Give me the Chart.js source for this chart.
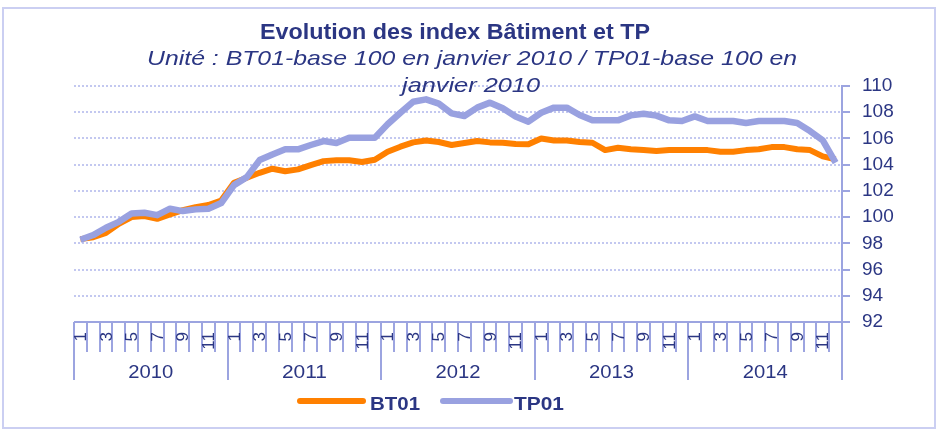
<!DOCTYPE html>
<html lang="fr">
<head>
  <meta charset="UTF-8" />
  <title>Evolution des index Bâtiment et TP</title>
  <script src="https://cdn.jsdelivr.net/npm/chart.js"></script>
  <style>
    body { margin: 0; background: #fff; }
    canvas { display: block; }
  </style>
</head>
<body>
  <canvas id="indexChart" width="938" height="430"></canvas>

  <script>
    // Données (mensuel, janvier 2010 à décembre 2014)
    const years = ['2010', '2011', '2012', '2013', '2014'];
    const months = ['1', '2', '3', '4', '5', '6', '7', '8', '9', '10', '11', '12'];
    const yTicks = [92, 94, 96, 98, 100, 102, 104, 106, 108, 110];

    const bt01 = [
      98.32, 98.47, 98.8, 99.49, 100.0, 100.08, 99.87, 100.2, 100.53, 100.76, 100.92, 101.27,
      102.62, 103.0, 103.38, 103.69, 103.5, 103.64, 103.97, 104.27, 104.33, 104.33, 104.2, 104.38,
      104.99, 105.37, 105.7, 105.85, 105.73, 105.5, 105.65, 105.8, 105.7, 105.67, 105.57, 105.55,
      106.0, 105.85, 105.85, 105.73, 105.67, 105.11, 105.29, 105.17, 105.11, 105.04, 105.11, 105.11,
      105.11, 105.11, 104.99, 104.99, 105.11, 105.17, 105.34, 105.34, 105.17, 105.11, 104.63, 104.4
    ];
    const tp01 = [
      98.27, 98.63, 99.19, 99.64, 100.28, 100.33, 100.15, 100.64, 100.46, 100.59, 100.64, 101.07,
      102.44, 103.05, 104.35, 104.78, 105.17, 105.17, 105.5, 105.8, 105.65, 106.06, 106.06, 106.06,
      107.08, 107.96, 108.8, 108.98, 108.65, 107.91, 107.71, 108.35, 108.73, 108.3, 107.68, 107.28,
      107.96, 108.35, 108.35, 107.79, 107.38, 107.38, 107.38, 107.76, 107.89, 107.74, 107.38, 107.33,
      107.68, 107.33, 107.33, 107.33, 107.18, 107.33, 107.33, 107.33, 107.18, 106.56, 105.85, 104.15
    ];

    const NAVY = '#2B3683';
    const AXIS = '#9CA4E0';
    const GRID = '#C3C8F0';
    const FONT = '"Liberation Sans", Arial, sans-serif';

    // une étiquette par mois, l'année sert de regroupement
    const labels = [];
    years.forEach(y => months.forEach(m => labels.push(m)));

    // texte ajusté à une largeur donnée (le rendu Excel est un peu plus large)
    function fitText(ctx, text, x, y, font, width, align) {
      ctx.font = font;
      const w = ctx.measureText(text).width;
      const sx = width ? width / w : 1;
      ctx.save();
      ctx.translate(x, y);
      ctx.scale(sx, 1);
      ctx.textAlign = align || 'center';
      ctx.fillText(text, 0, 0);
      ctx.restore();
    }

    const decorPlugin = {
      id: 'decor',
      afterDraw(chart) {
        const ctx = chart.ctx;
        const xs = chart.scales.x;
        const area = chart.chartArea;
        const step = xs.getPixelForValue(1) - xs.getPixelForValue(0);
        const bottom = area.bottom;

        ctx.save();

        // cadre
        ctx.strokeStyle = '#CBCFF2';
        ctx.lineWidth = 2;
        ctx.strokeRect(3, 8, 932, 420);

        // titres
        ctx.fillStyle = NAVY;
        ctx.textBaseline = 'alphabetic';
        fitText(ctx, 'Evolution des index Bâtiment et TP', 455, 39, 'bold 22px ' + FONT, 390);
        fitText(ctx, 'Unité : BT01-base 100 en janvier 2010 / TP01-base 100 en', 472, 65, 'italic 21px ' + FONT, 650);
        fitText(ctx, 'janvier 2010', 471, 92, 'italic 21px ' + FONT, 138);

        // axe des abscisses
        ctx.strokeStyle = AXIS;
        ctx.lineWidth = 2;
        ctx.beginPath();
        ctx.moveTo(area.left, bottom);
        ctx.lineTo(area.right, bottom);
        ctx.stroke();

        for (let i = 0; i <= labels.length; i++) {
          const xb = Math.round(xs.getPixelForValue(0) - step / 2 + i * step);
          const long = i % months.length === 0;
          ctx.beginPath();
          ctx.moveTo(xb, bottom);
          ctx.lineTo(xb, bottom + (long ? 58 : 30));
          ctx.stroke();
        }

        // mois impairs, texte vertical
        ctx.fillStyle = NAVY;
        ctx.font = '17px ' + FONT;
        ctx.textAlign = 'right';
        ctx.textBaseline = 'middle';
        labels.forEach((m, i) => {
          if (Number(m) % 2 === 0) return;
          ctx.save();
          ctx.translate(xs.getPixelForValue(i) + 1, bottom + 10);
          ctx.rotate(-Math.PI / 2);
          ctx.fillText(m, 0, 0);
          ctx.restore();
        });

        // années
        ctx.textBaseline = 'alphabetic';
        years.forEach((y, k) => {
          const first = xs.getPixelForValue(k * months.length);
          const last = xs.getPixelForValue(k * months.length + months.length - 1);
          fitText(ctx, y, (first + last) / 2, bottom + 56, '19px ' + FONT, 45);
        });

        // légende
        const legendX = [[300, 363, 370], [443, 510, 514]];
        chart.data.datasets.forEach((ds, i) => {
          const [x0, x1, tx] = legendX[i];
          ctx.strokeStyle = ds.borderColor;
          ctx.lineWidth = 6;
          ctx.lineCap = 'round';
          ctx.beginPath();
          ctx.moveTo(x0, 401);
          ctx.lineTo(x1, 401);
          ctx.stroke();
          ctx.fillStyle = NAVY;
          fitText(ctx, ds.label, tx, 410, 'bold 19px ' + FONT, 50, 'left');
        });

        ctx.restore();
      }
    };

    new Chart(document.getElementById('indexChart'), {
      type: 'line',
      data: {
        labels: labels,
        datasets: [
          {
            label: 'BT01',
            data: bt01,
            borderColor: '#FF8000',
            borderWidth: 6,
            pointRadius: 0,
            tension: 0,
            borderJoinStyle: 'round',
            order: 1
          },
          {
            label: 'TP01',
            data: tp01,
            borderColor: '#99A1E0',
            borderWidth: 6.5,
            pointRadius: 0,
            tension: 0,
            borderJoinStyle: 'round',
            order: 0
          }
        ]
      },
      options: {
        responsive: false,
        animation: false,
        layout: { padding: { left: 74, top: 86, bottom: 108, right: 0 } },
        plugins: {
          legend: { display: false },
          title: { display: false },
          tooltip: { enabled: false }
        },
        scales: {
          x: {
            display: false,
            offset: true
          },
          y: {
            position: 'right',
            min: 92,
            max: 110,
            afterFit(scale) { scale.width = 96; },
            afterBuildTicks(scale) { scale.ticks = yTicks.map(v => ({ value: v })); },
            border: { color: AXIS, width: 2, dash: [2, 2] },
            grid: {
              color: GRID,
              lineWidth: 2,
              tickLength: 8,
              tickColor: AXIS,
              tickWidth: 2,
              tickBorderDash: []
            },
            ticks: {
              color: NAVY,
              padding: 12,
              font: { family: FONT, size: 19 }
            }
          }
        }
      },
      plugins: [decorPlugin]
    });
  </script>
</body>
</html>
